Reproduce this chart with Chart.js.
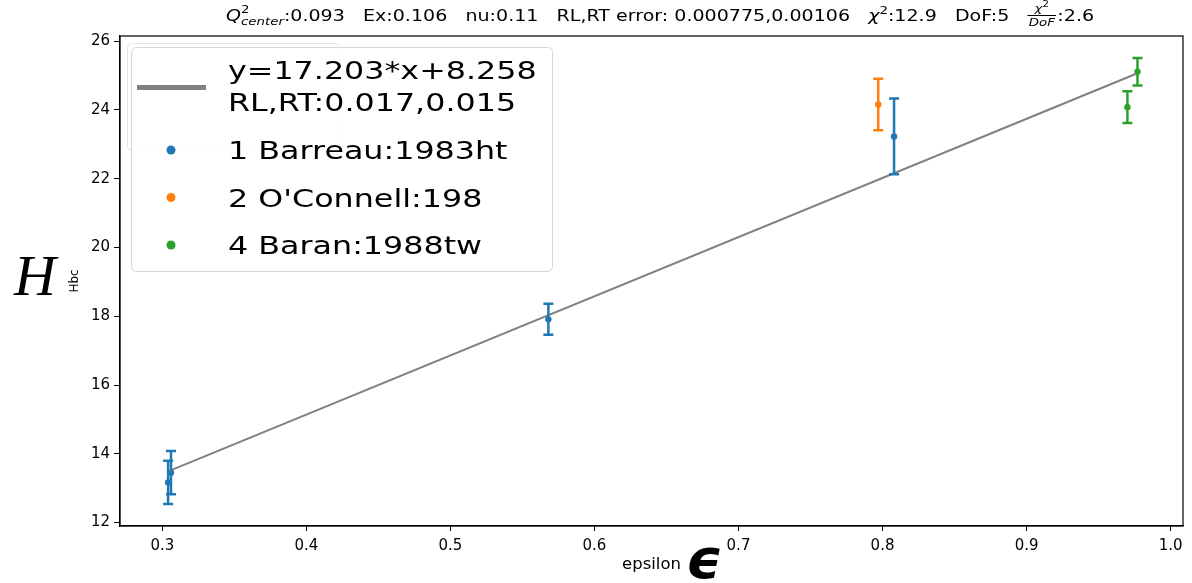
<!DOCTYPE html>
<html>
<head>
<meta charset="utf-8">
<script src="https://cdn.jsdelivr.net/npm/chart.js@4.4.1/dist/chart.umd.min.js"></script>
<style>
  html, body { margin: 0; padding: 0; background: #fff; }
  canvas { display: block; }
</style>
</head>
<body>
<canvas id="c" width="1192" height="583"></canvas>
<script>
// Hbc against epsilon, one group of arrays per experiment
const barreauEps = [0.304, 0.306, 0.568, 0.808];
const barreauHbc = [13.17, 13.45, 17.91, 23.23];
const barreauErr = [0.63, 0.63, 0.45, 1.10];

const oconnellEps = [0.797];
const oconnellHbc = [24.16];
const oconnellErr = [0.75];

const baranEps = [0.970, 0.977];
const baranHbc = [24.08, 25.11];
const baranErr = [0.46, 0.40];

// straight-line fit through all points
const fitSlope = 17.203;
const fitIntercept = 8.258;
const fitRL = 0.017;
const fitRT = 0.015;

const seriesLabels = ['1 Barreau:1983ht', "2 O'Connell:198", '4 Baran:1988tw'];

const xTicks = [0.3, 0.4, 0.5, 0.6, 0.7, 0.8, 0.9, 1.0];
const xTickLabels = ['0.3', '0.4', '0.5', '0.6', '0.7', '0.8', '0.9', '1.0'];
const yTicks = [12, 14, 16, 18, 20, 22, 24, 26];
const yTickLabels = ['12', '14', '16', '18', '20', '22', '24', '26'];

const BLUE = '#1f77b4', ORANGE = '#ff7f0e', GREEN = '#2ca02c', GREY = '#808080';
const STRETCH = 1.27; // text is drawn a little wider than the font's natural width

function pts(xs, ys, es) {
  return xs.map((x, i) => ({ x: x, y: ys[i], err: es[i] }));
}

const allEps = barreauEps.concat(oconnellEps, baranEps);
const fitX0 = Math.min.apply(null, allEps);
const fitX1 = Math.max.apply(null, allEps);
const fitLine = [fitX0, fitX1].map(x => ({ x: x, y: fitSlope * x + fitIntercept }));

// vertical error bars with caps, drawn from each point's err value
const errorBars = {
  id: 'errorBars',
  afterDatasetsDraw(chart) {
    const ctx = chart.ctx, xs = chart.scales.x, ys = chart.scales.y;
    chart.data.datasets.forEach(ds => {
      if (!ds.errorBars) return;
      ctx.save();
      ctx.strokeStyle = ds.backgroundColor;
      ctx.lineWidth = 2.5;
      ds.data.forEach(p => {
        const px = xs.getPixelForValue(p.x);
        const top = ys.getPixelForValue(p.y + p.err);
        const bot = ys.getPixelForValue(p.y - p.err);
        ctx.beginPath();
        ctx.moveTo(px, top); ctx.lineTo(px, bot);
        ctx.moveTo(px - 5, top); ctx.lineTo(px + 5, top);
        ctx.moveTo(px - 5, bot); ctx.lineTo(px + 5, bot);
        ctx.stroke();
      });
      ctx.restore();
    });
  }
};

const decorations = {
  id: 'decorations',
  afterDraw(chart) {
    const ctx = chart.ctx, a = chart.chartArea;
    ctx.save();
    // frame around the plotting area
    ctx.strokeStyle = '#000';
    ctx.lineWidth = 1.2;
    ctx.strokeRect(a.left, a.top, a.right - a.left, a.bottom - a.top);

    ctx.fillStyle = '#000';
    ctx.textBaseline = 'alphabetic';
    ctx.textAlign = 'left';

    // header line with fit statistics, widened horizontally
    const F = '15px "DejaVu Sans"', FI = 'italic 15px "DejaVu Sans"';
    const FS = '10.5px "DejaVu Sans"', FSI = 'italic 10.5px "DejaVu Sans"';
    const sp = '   ';
    ctx.save();
    ctx.translate(226, 21);
    ctx.scale(STRETCH, 1);
    let x = 0;
    const ty = 0;
    function piece(text, font, dy) {
      ctx.font = font; ctx.fillText(text, x, ty + (dy || 0));
      return ctx.measureText(text).width;
    }
    x += piece('Q', FI);
    ctx.font = FSI; const wc = ctx.measureText('center').width;
    piece('2', FS, -8); piece('center', FSI, 4); x += wc;
    x += piece(':0.093' + sp + 'Ex:0.106' + sp + 'nu:0.11' + sp + 'RL,RT error: 0.000775,0.00106' + sp, F);
    x += piece('\u03c7', FI);
    x += piece('2', FS, -7);
    x += piece(':12.9' + sp + 'DoF:5' + sp, F);
    // chi2 / DoF as a stacked fraction
    ctx.font = FSI; const wd = ctx.measureText('DoF').width;
    const wn = ctx.measureText('\u03c7').width;
    ctx.font = '8px "DejaVu Sans"'; const wn2 = ctx.measureText('2').width;
    const fw = Math.max(wd, wn + wn2) + 2;
    const nx = x + (fw - wn - wn2) / 2;
    ctx.font = FSI; ctx.fillText('\u03c7', nx, ty - 9);
    ctx.font = '8px "DejaVu Sans"'; ctx.fillText('2', nx + wn, ty - 14);
    ctx.fillRect(x, ty - 6, fw, 1);
    ctx.font = FSI; ctx.fillText('DoF', x + (fw - wd) / 2, ty + 5);
    x += fw + 1;
    piece(':2.6', F);
    ctx.restore();

    // axis names
    ctx.font = 'italic 58px "Liberation Serif"';
    ctx.fillText('H', 14, 295);
    ctx.save();
    ctx.translate(78, 281);
    ctx.rotate(-Math.PI / 2);
    ctx.textAlign = 'center';
    ctx.font = '12px "DejaVu Sans"';
    ctx.fillText('Hbc', 0, 0);
    ctx.restore();
    ctx.save();
    ctx.translate(622, 569);
    ctx.scale(1.1, 1);
    ctx.font = '15px "DejaVu Sans"';
    ctx.fillText('epsilon', 0, 0);
    ctx.restore();
    ctx.font = 'italic bold 56px "DejaVu Sans"';
    ctx.fillText('\u03f5', 686, 578);

    // legend box (a faint older frame sits behind it)
    ctx.strokeStyle = '#e4e4e4';
    ctx.lineWidth = 1;
    ctx.beginPath(); ctx.roundRect(127.5, 43.5, 212, 107, 4); ctx.stroke();
    ctx.fillStyle = 'rgba(255,255,255,0.9)';
    ctx.strokeStyle = '#d6d6d6';
    ctx.beginPath(); ctx.roundRect(131.5, 47.5, 421, 224, 5); ctx.fill(); ctx.stroke();

    const ds = chart.data.datasets;
    const LF = '25px "DejaVu Sans"';
    function legendText(text, tx, tyy) {
      ctx.save();
      ctx.translate(tx, tyy);
      ctx.scale(STRETCH, 1);
      ctx.font = LF;
      ctx.fillStyle = '#000';
      ctx.fillText(text, 0, 0);
      ctx.restore();
    }
    ctx.fillStyle = GREY;
    ctx.fillRect(137, 85, 69, 5);
    const fitLines = ds[0].label.split('\n');
    legendText(fitLines[0], 228, 79);
    legendText(fitLines[1], 228, 111);
    [1, 2, 3].forEach((k, i) => {
      const cy = 150 + i * 47.5;
      ctx.fillStyle = ds[k].backgroundColor;
      ctx.beginPath(); ctx.arc(171, cy, 4.5, 0, Math.PI * 2); ctx.fill();
      legendText(ds[k].label, 228, cy + 9);
    });
    ctx.restore();
  }
};

const tickFont = { family: 'DejaVu Sans', size: 15 };

new Chart(document.getElementById('c'), {
  type: 'scatter',
  data: {
    datasets: [
      {
        type: 'line',
        label: 'y=' + fitSlope + '*x+' + fitIntercept + '\nRL,RT:' + fitRL + ',' + fitRT,
        data: fitLine,
        borderColor: GREY, backgroundColor: GREY,
        borderWidth: 2, pointRadius: 0, fill: false, tension: 0
      },
      { label: seriesLabels[0], data: pts(barreauEps, barreauHbc, barreauErr), backgroundColor: BLUE, borderColor: BLUE, pointRadius: 3.2, borderWidth: 0, errorBars: true },
      { label: seriesLabels[1], data: pts(oconnellEps, oconnellHbc, oconnellErr), backgroundColor: ORANGE, borderColor: ORANGE, pointRadius: 3.2, borderWidth: 0, errorBars: true },
      { label: seriesLabels[2], data: pts(baranEps, baranHbc, baranErr), backgroundColor: GREEN, borderColor: GREEN, pointRadius: 3.2, borderWidth: 0, errorBars: true }
    ]
  },
  options: {
    responsive: false,
    animation: false,
    devicePixelRatio: 1,
    layout: { padding: { left: 0, top: 36, right: 9, bottom: 0 } },
    plugins: { legend: { display: false }, title: { display: false }, tooltip: { enabled: false } },
    scales: {
      x: {
        type: 'linear', min: 0.2706, max: 1.0086,
        afterBuildTicks: s => { s.ticks = xTicks.map(v => ({ value: v })); },
        afterFit: s => { s.height = 57; },
        grid: { display: true, drawOnChartArea: false, drawTicks: true, tickLength: 5, color: '#000' },
        border: { display: true, color: '#000', width: 1.2 },
        ticks: { color: '#000', font: tickFont, padding: 6, maxRotation: 0, autoSkip: false, callback: (v, i) => xTickLabels[i] }
      },
      y: {
        type: 'linear', min: 11.9, max: 26.15,
        afterBuildTicks: s => { s.ticks = yTicks.map(v => ({ value: v })); },
        afterFit: s => { s.width = 120; },
        grid: { display: true, drawOnChartArea: false, drawTicks: true, tickLength: 6, color: '#000' },
        border: { display: true, color: '#000', width: 1.2 },
        ticks: { color: '#000', font: tickFont, padding: 4, autoSkip: false, callback: (v, i) => yTickLabels[i] }
      }
    }
  },
  plugins: [errorBars, decorations]
});
</script>
</body>
</html>
